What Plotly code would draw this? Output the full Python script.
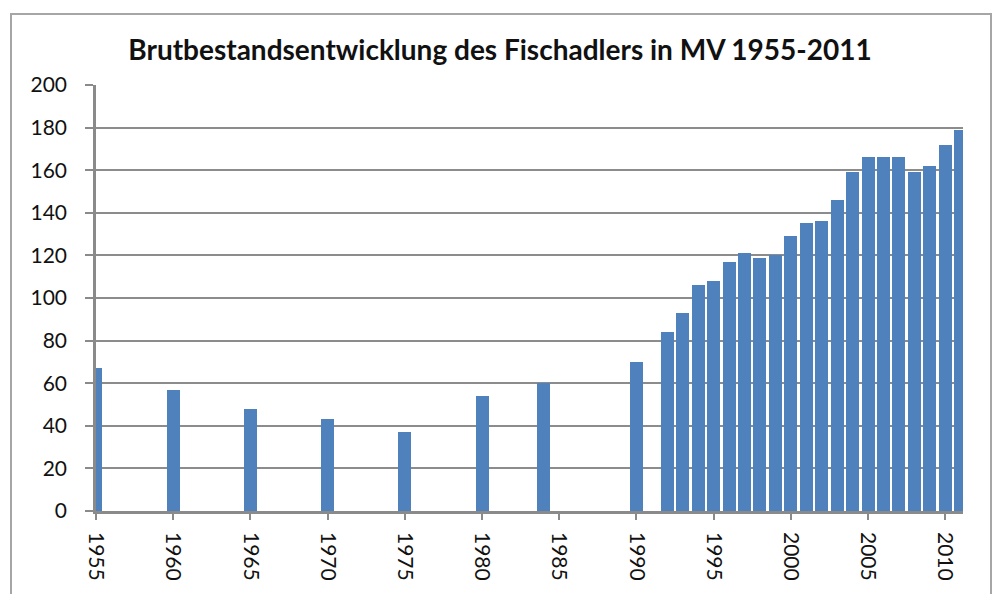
import plotly.graph_objects as go

years = [1955, 1960, 1965, 1970, 1975, 1980, 1984, 1990,
         1992, 1993, 1994, 1995, 1996, 1997, 1998, 1999, 2000, 2001,
         2002, 2003, 2004, 2005, 2006, 2007, 2008, 2009, 2010, 2011]
pairs = [67, 57, 48, 43, 37, 54, 60, 70,
         84, 93, 106, 108, 117, 121, 119, 120, 129, 135,
         136, 146, 159, 166, 166, 166, 159, 162, 172, 179]
tick_years = [1955, 1960, 1965, 1970, 1975, 1980, 1985, 1990, 1995, 2000, 2005, 2010]
y_ticks = [0, 20, 40, 60, 80, 100, 120, 140, 160, 180, 200]
title = "Brutbestandsentwicklung des Fischadlers in MV 1955-2011"

W, H = 998, 594
L, R, T, B = 96, 35, 85, 83
pw = W - L - R
ph = H - T - B

fig = go.Figure(go.Bar(
    x=years, y=pairs, width=0.84,
    marker=dict(color="#4F81BD", line=dict(width=0)),
))

def px_x(p):
    return (p - L) / pw

def px_y(p):
    return (H - B - p) / ph

fig.add_shape(type="rect", xref="paper", yref="paper",
              x0=px_x(11), x1=px_x(991), y0=px_y(640), y1=px_y(14),
              line=dict(color="#a6a6a6", width=2), fillcolor="rgba(0,0,0,0)",
              layer="below")

fig.update_layout(
    width=W, height=H,
    margin=dict(l=L, r=R, t=T, b=B, autoexpand=False),
    paper_bgcolor="white", plot_bgcolor="white",
    showlegend=False,
    title=dict(text="<b>" + title + "</b>", x=(500) / W, xanchor="center",
               y=1 - 50 / H, yanchor="middle", yref="container",
               font=dict(family="Lato", size=28, color="#111111")),
    font=dict(family="Lato", size=21, color="#111111"),
    bargap=0,
)
fig.update_xaxes(
    range=[1955, 2011.15], tickmode="array", tickvals=tick_years,
    ticktext=[str(t) for t in tick_years], tickangle=90,
    showgrid=False, zeroline=False, automargin=False,
    showline=True, linecolor="#8a8a8a", linewidth=2.5,
    ticks="outside", ticklen=6, tickwidth=2, tickcolor="#8a8a8a",
    ticklabelstandoff=8,
)
fig.update_yaxes(
    range=[0, 200], tickmode="array", tickvals=y_ticks,
    showgrid=True, gridcolor="#8c8c8c", gridwidth=1.5,
    zeroline=False, automargin=False,
    showline=True, linecolor="#8a8a8a", linewidth=2.5,
    ticks="outside", ticklen=8, tickwidth=2, tickcolor="#8a8a8a",
    ticklabelstandoff=14,
)

fig.write_html("out.html", config={"displayModeBar": False},
               post_script="document.body.style.margin='0';document.body.style.overflow='hidden';")
